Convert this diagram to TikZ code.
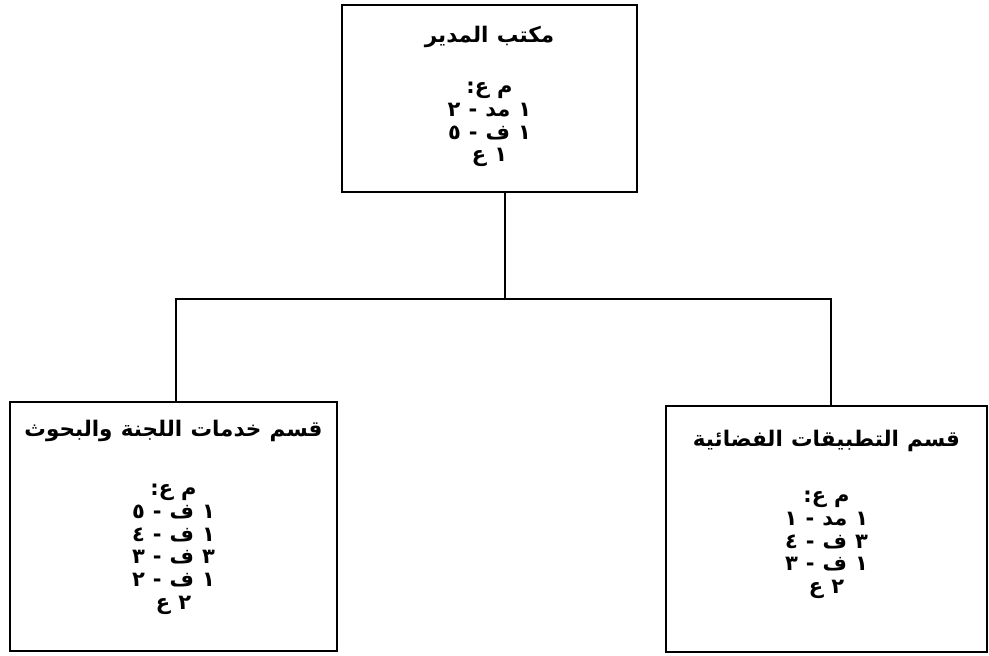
\documentclass[tikz,border=0pt]{standalone}
\usepackage{fontspec}
\newfontfamily\arabicfont[Script=Arabic,WordSpace=1.7]{DejaVu Sans}
\newfontfamily\arabicnotes[Script=Arabic,WordSpace=1.1]{DejaVu Sans}
\TeXXeTstate=1
\usetikzlibrary{positioning}

\newcommand{\rl}[1]{\beginR #1\endR}

\tikzset{
  unitbox/.style={draw, line width=2.4pt, inner sep=0pt},
  unittitle/.style={inner sep=0pt, font=\arabicfont\bfseries\fontsize{21.5}{24}\selectfont},
  staffnote/.style={inner sep=0pt, align=center, font=\arabicnotes\bfseries\fontsize{21}{22.8}\selectfont},
  link/.style={line width=1.6pt}
}

\begin{document}
\begin{tikzpicture}[x=1pt,y=-1pt]
\useasboundingbox (0,0) rectangle (989,656);

% boxes
\node[unitbox, minimum width=295pt, minimum height=187pt] (head) at (489.5,98.5) {};
\node[unitbox, minimum width=327pt, minimum height=249pt] (left) at (173.5,526.5) {};
\node[unitbox, minimum width=321pt, minimum height=246pt] (right) at (826.5,529) {};

% titles
\node[unittitle, below=22pt of head.north] (headtitle) {\rl{مكتب المدير}};
\node[unittitle, below=19pt of left.north] (lefttitle) {\rl{قسم خدمات اللجنة والبحوث}};
\node[unittitle, below=25pt of right.north] (righttitle) {\rl{قسم التطبيقات الفضائية}};

% staff
\node[staffnote, below=78pt of head.north] (headstaff)
  {\rl{م ع:}\\ \rl{١ مد - ٢}\\ \rl{١ ف - ٥}\\ \rl{١ ع}};
\node[staffnote, below=83pt of left.north] (leftstaff)
  {\rl{م ع:}\\ \rl{١ ف - ٥}\\ \rl{١ ف - ٤}\\ \rl{٣ ف - ٣}\\ \rl{١ ف - ٢}\\ \rl{٢ ع}};
\node[staffnote, below=86pt of right.north] (rightstaff)
  {\rl{م ع:}\\ \rl{١ مد - ١}\\ \rl{٣ ف - ٤}\\ \rl{١ ف - ٣}\\ \rl{٢ ع}};

% connectors
\coordinate (split) at (505,299);
\draw[link] ([xshift=15.5pt]head.south) -- (split);
\draw[link] ([xshift=2.5pt]left.north) |- (split) -| ([xshift=4.5pt]right.north);

\end{tikzpicture}
\end{document}
